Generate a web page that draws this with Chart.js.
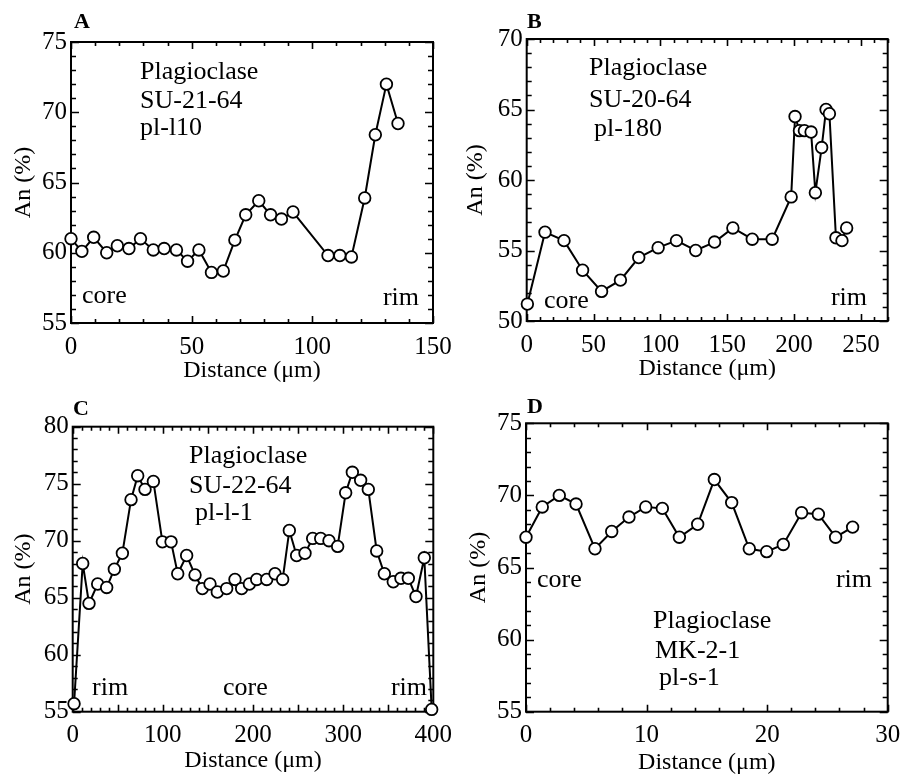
<!DOCTYPE html>
<html>
<head>
<meta charset="utf-8">
<script src="https://cdn.jsdelivr.net/npm/chart.js@4.4.0/dist/chart.umd.min.js"></script>
<style>
html, body { margin: 0; padding: 0; background: #fff; }
#page { position: relative; width: 903px; height: 778px; overflow: hidden; }
.panel { position: absolute; }
</style>
</head>
<body>
<div id="page">
  <div class="panel" style="left:0;top:0;"><canvas id="chartA" width="451" height="390"></canvas></div>
  <div class="panel" style="left:451px;top:0;"><canvas id="chartB" width="452" height="390"></canvas></div>
  <div class="panel" style="left:0;top:390px;"><canvas id="chartC" width="451" height="388"></canvas></div>
  <div class="panel" style="left:451px;top:390px;"><canvas id="chartD" width="452" height="388"></canvas></div>
</div>
<script>
// profile data: distance (µm) and An (%)
const distA = [0, 4.5, 9.4, 14.8, 19.2, 24.0, 28.8, 34.1, 38.6, 43.7, 48.3, 53.0, 58.2, 63.1, 67.9, 72.4, 77.8, 82.7, 87.2, 92.0, 106.5, 111.4, 116.2, 121.7, 126.1, 130.7, 135.5];
const anA   = [61.0, 60.1, 61.1, 60.0, 60.5, 60.3, 61.0, 60.2, 60.3, 60.2, 59.4, 60.2, 58.6, 58.7, 60.9, 62.7, 63.7, 62.7, 62.4, 62.9, 59.8, 59.8, 59.7, 63.9, 68.4, 72.0, 69.2];

const distB = [0.5, 13.7, 27.9, 41.8, 56.0, 70.1, 83.8, 98.3, 112.0, 126.4, 140.5, 154.2, 168.7, 183.6, 197.8, 200.7, 204.0, 207.7, 212.7, 215.9, 220.6, 223.9, 226.4, 231.3, 235.8, 239.3];
const anB   = [51.2, 56.3, 55.7, 53.6, 52.1, 52.9, 54.5, 55.2, 55.7, 55.0, 55.6, 56.6, 55.8, 55.8, 58.8, 64.5, 63.5, 63.5, 63.4, 59.1, 62.3, 65.0, 64.7, 55.9, 55.7, 56.6];

const distC = [1.5, 11.1, 18.1, 27.7, 37.7, 46.2, 55.1, 64.7, 72.1, 80.2, 89.5, 99.5, 109.1, 116.5, 126.4, 135.7, 143.8, 152.3, 160.4, 170.8, 180.0, 187.4, 196.0, 204.1, 215.2, 224.4, 232.9, 240.3, 248.4, 257.7, 266.2, 275.1, 284.3, 293.9, 302.8, 310.2, 319.4, 327.9, 337.2, 345.7, 355.6, 364.1, 372.3, 380.8, 390.0, 398.2];
const anC   = [55.7, 68.0, 64.5, 66.2, 65.9, 67.5, 68.9, 73.6, 75.7, 74.5, 75.2, 69.9, 69.9, 67.1, 68.7, 67.0, 65.8, 66.2, 65.5, 65.8, 66.6, 65.8, 66.2, 66.6, 66.6, 67.1, 66.6, 70.9, 68.7, 68.9, 70.2, 70.2, 70.0, 69.5, 74.2, 76.0, 75.3, 74.5, 69.1, 67.1, 66.4, 66.7, 66.7, 65.1, 68.5, 55.2];

const distD = [0, 1.35, 2.76, 4.15, 5.72, 7.11, 8.54, 9.93, 11.31, 12.72, 14.24, 15.62, 17.06, 18.52, 19.96, 21.34, 22.86, 24.25, 25.68, 27.09];
const anD   = [67.1, 69.2, 70.0, 69.4, 66.3, 67.5, 68.5, 69.2, 69.1, 67.1, 68.0, 71.1, 69.5, 66.3, 66.1, 66.6, 68.8, 68.7, 67.1, 67.8];

// tick labels
const xTicksA = [0, 50, 100, 150];
const xTicksB = [0, 50, 100, 150, 200, 250];
const xTicksC = [0, 100, 200, 300, 400];
const xTicksD = [0, 10, 20, 30];
const yTicksA = [55, 60, 65, 70, 75];
const yTicksB = [50, 55, 60, 65, 70];
const yTicksC = [55, 60, 65, 70, 75, 80];
const yTicksD = [55, 60, 65, 70, 75];

const SERIF = '"Liberation Serif", "Times New Roman", serif';

// frame + inward tick marks on all four sides, then text notes
const frameTicks = {
  id: 'frameTicks',
  beforeDatasetsDraw(chart, args, o) {
    const ctx = chart.ctx;
    const a = chart.chartArea;
    const xs = chart.scales.x, ys = chart.scales.y;
    ctx.save();
    ctx.strokeStyle = '#000';
    ctx.lineWidth = 2;
    ctx.strokeRect(a.left, a.top, a.right - a.left, a.bottom - a.top);
    ctx.lineWidth = 1.6;
    ctx.beginPath();
    const nx = Math.round((xs.max - xs.min) / o.xMinor);
    for (let i = 0; i <= nx; i++) {
      const v = xs.min + i * o.xMinor;
      const major = Math.abs(v / o.xMajor - Math.round(v / o.xMajor)) < 1e-6;
      const len = major ? 7 : 4;
      const px = Math.round(xs.getPixelForValue(v)) + 0.5;
      ctx.moveTo(px, a.bottom); ctx.lineTo(px, a.bottom - len);
      ctx.moveTo(px, a.top); ctx.lineTo(px, a.top + len);
    }
    const ny = Math.round((ys.max - ys.min) / o.yMinor);
    for (let i = 0; i <= ny; i++) {
      const v = ys.min + i * o.yMinor;
      const major = Math.abs(v / o.yMajor - Math.round(v / o.yMajor)) < 1e-6;
      const len = major ? 8 : 5;
      const py = Math.round(ys.getPixelForValue(v)) + 0.5;
      ctx.moveTo(a.left, py); ctx.lineTo(a.left + len, py);
      ctx.moveTo(a.right, py); ctx.lineTo(a.right - len, py);
    }
    ctx.stroke();
    ctx.restore();
  },
  afterDraw(chart, args, o) {
    const ctx = chart.ctx;
    ctx.save();
    ctx.fillStyle = '#000';
    ctx.textBaseline = 'alphabetic';
    (o.notes || []).forEach(n => {
      ctx.font = (n.bold ? 'bold ' : '') + (n.size || 26) + 'px ' + SERIF;
      ctx.textAlign = n.align || 'left';
      ctx.fillText(n.text, n.x, n.y);
    });
    ctx.restore();
  }
};

function makePanel(id, dist, an, xTicks, yTicks, box, extra) {
  const canvas = document.getElementById(id);
  const W = canvas.width, H = canvas.height;
  const points = dist.map((d, i) => ({ x: d, y: an[i] }));
  return new Chart(canvas, {
    type: 'scatter',
    data: {
      datasets: [{
        data: points,
        showLine: true,
        borderColor: '#000',
        borderWidth: 2,
        pointRadius: 5.8,
        pointBorderWidth: 1.8,
        pointBackgroundColor: '#fff',
        pointBorderColor: '#000',
        clip: false
      }]
    },
    options: {
      responsive: false,
      animation: false,
      events: [],
      layout: { padding: { top: box.T, right: W - box.R, left: 0, bottom: 0 } },
      plugins: {
        legend: { display: false },
        tooltip: { enabled: false },
        frameTicks: extra
      },
      scales: {
        x: {
          type: 'linear',
          min: extra.xMin,
          max: extra.xMax,
          grid: { display: false, drawTicks: false },
          border: { display: false },
          afterBuildTicks: s => { s.ticks = xTicks.map(v => ({ value: v })); },
          afterFit: s => { s.height = H - box.B; s.paddingLeft = 0; s.paddingRight = 0; },
          ticks: { color: '#000', padding: extra.xPad, maxRotation: 0, font: { family: SERIF, size: 25 } },
          title: { display: true, text: 'Distance (μm)', color: '#000', padding: { top: 0, bottom: extra.xTitlePad }, font: { family: SERIF, size: 24 } }
        },
        y: {
          type: 'linear',
          min: yTicks[0],
          max: yTicks[yTicks.length - 1],
          grid: { display: false, drawTicks: false },
          border: { display: false },
          afterBuildTicks: s => { s.ticks = yTicks.map(v => ({ value: v })); },
          afterFit: s => { s.width = box.L; s.paddingTop = 0; s.paddingBottom = 0; },
          ticks: { color: '#000', padding: 4, font: { family: SERIF, size: 25 } },
          title: { display: true, text: 'An (%)', color: '#000', padding: { top: extra.yTitlePad, bottom: 0 }, font: { family: SERIF, size: 24 } }
        }
      }
    },
    plugins: [frameTicks]
  });
}

makePanel('chartA', distA, anA, xTicksA, yTicksA, { L: 71, T: 42, R: 433, B: 323 }, {
  xMin: 0, xMax: 150, xMinor: 10, xMajor: 50, yMinor: 1, yMajor: 5,
  xPad: 9, xTitlePad: 5, yTitlePad: 9,
  notes: [
    { text: 'A', x: 74, y: 28, bold: true, size: 22 },
    { text: 'Plagioclase', x: 140, y: 79 },
    { text: 'SU-21-64', x: 140, y: 108 },
    { text: 'pl-l10', x: 140, y: 135 },
    { text: 'core', x: 82, y: 303 },
    { text: 'rim', x: 419, y: 305, align: 'right' }
  ]
});

makePanel('chartB', distB, anB, xTicksB, yTicksB, { L: 75.7, T: 39, R: 436.7, B: 321 }, {
  xMin: 0, xMax: 270, xMinor: 10, xMajor: 50, yMinor: 1, yMajor: 5,
  xPad: 9, xTitlePad: 7, yTitlePad: 10,
  notes: [
    { text: 'B', x: 76, y: 28, bold: true, size: 22 },
    { text: 'Plagioclase', x: 138, y: 75 },
    { text: 'SU-20-64', x: 138, y: 107 },
    { text: 'pl-180', x: 143, y: 136 },
    { text: 'core', x: 93, y: 308 },
    { text: 'rim', x: 416, y: 305, align: 'right' }
  ]
});

makePanel('chartC', distC, anC, xTicksC, yTicksC, { L: 72.7, T: 36.7, R: 433.3, B: 321.7 }, {
  xMin: 0, xMax: 400, xMinor: 10, xMajor: 50, yMinor: 1, yMajor: 5,
  xPad: 9, xTitlePad: 3, yTitlePad: 9,
  notes: [
    { text: 'C', x: 73, y: 25, bold: true, size: 22 },
    { text: 'Plagioclase', x: 189, y: 73 },
    { text: 'SU-22-64', x: 189, y: 103 },
    { text: 'pl-l-1', x: 195, y: 130 },
    { text: 'rim', x: 92, y: 305 },
    { text: 'core', x: 223, y: 305 },
    { text: 'rim', x: 427, y: 305, align: 'right' }
  ]
});

makePanel('chartD', distD, anD, xTicksD, yTicksD, { L: 75, T: 33.3, R: 436.7, B: 321.7 }, {
  xMin: 0, xMax: 30, xMinor: 2, xMajor: 10, yMinor: 1, yMajor: 5,
  xPad: 9, xTitlePad: 1, yTitlePad: 13,
  notes: [
    { text: 'D', x: 76, y: 23, bold: true, size: 22 },
    { text: 'core', x: 86, y: 197 },
    { text: 'rim', x: 421, y: 197, align: 'right' },
    { text: 'Plagioclase', x: 202, y: 238 },
    { text: 'MK-2-1', x: 204, y: 268 },
    { text: 'pl-s-1', x: 208, y: 295 }
  ]
});
</script>
</body>
</html>
